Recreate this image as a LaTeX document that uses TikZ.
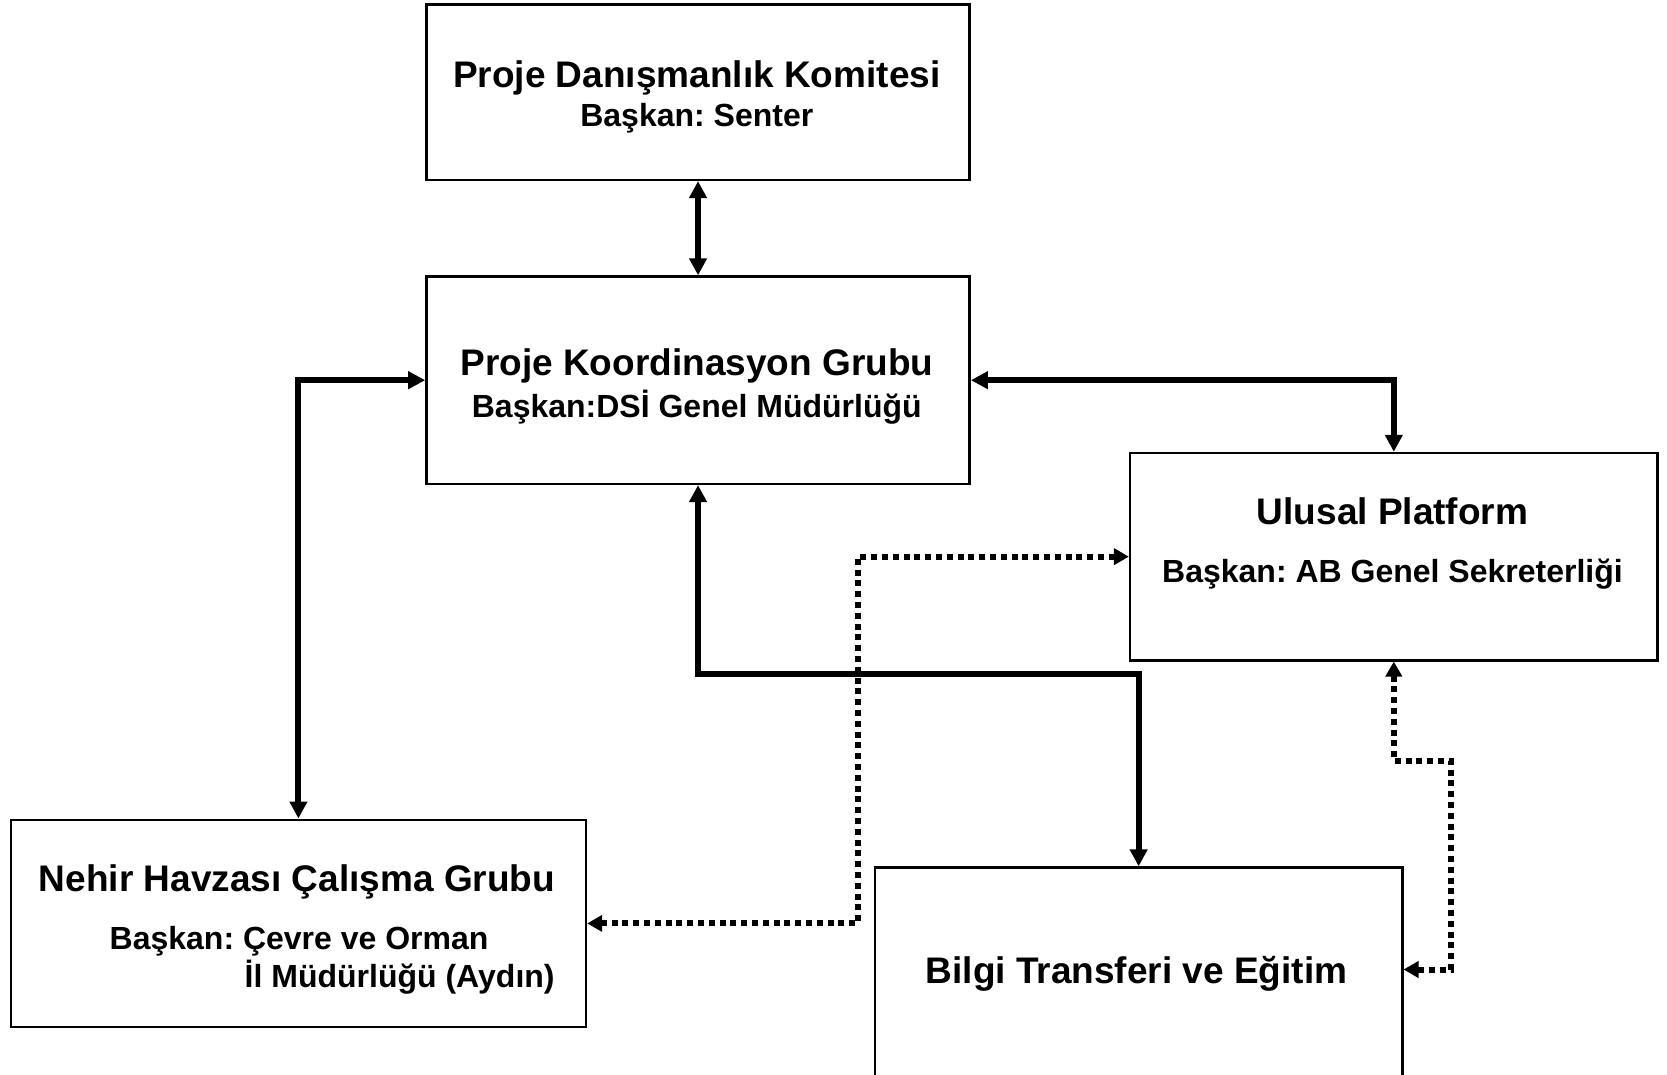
\documentclass[tikz,border=0pt]{standalone}
\usepackage{fontspec}
\setmainfont{Liberation Sans}
\usetikzlibrary{arrows.meta}
\frenchspacing
\begin{document}
\begin{tikzpicture}[x=1pt,y=-1pt,
  box/.style={draw, line width=2.5pt, inner sep=0pt, anchor=north west},
  ttl/.style={font=\fontsize{37}{44}\selectfont\bfseries, inner sep=0pt, anchor=base},
  sub/.style={font=\fontsize{32}{38}\selectfont\bfseries, inner sep=0pt, anchor=base},
  solidcon/.style={line width=6pt, line join=miter,
    {Triangle[width=17pt,length=17pt]}-{Triangle[width=17pt,length=17pt]}},
  dotcon/.style={line width=6pt, dash pattern=on 6pt off 4.8pt, line cap=butt,
    {Triangle[width=16pt,length=15pt]}-{Triangle[width=16pt,length=15pt]}}]
\useasboundingbox (0,0) rectangle (1667,1074);

% boxes
\node[box, minimum width=543.2pt, minimum height=175.4pt] (pdk) at (425.2,3.2) {};
\node[box, minimum width=543.2pt, minimum height=207.3pt] (pkg) at (425.2,275.3) {};
\node[box, minimum width=527.3pt, minimum height=207.2pt] (ulusal) at (1128.9,451.8) {};
\node[box, minimum width=575.1pt, minimum height=207.3pt] (nehir) at (9.6,818.5) {};
\node[box, minimum width=527.2pt, minimum height=223.7pt] (bilgi) at (873.8,866.3) {};

% texts
\node[ttl] (t1) at (696.8,87.7) {Proje Danışmanlık Komitesi};
\node[sub] (s1) at (696.8,126.3) {Başkan: Senter};
\node[ttl] (t2) at (696.8,375.8) {Proje Koordinasyon Grubu};
\node[sub] (s2) at (696.8,417.5) {Başkan:DSİ Genel Müdürlüğü};
\node[ttl] (t3) at (1392.5,524.6) {Ulusal Platform};
\node[sub] (s3) at (1392.5,582.3) {Başkan: AB Genel Sekreterliği};
\node[ttl] (t4) at (297,891.3) {Nehir Havzası Çalışma Grubu};
\node[sub, anchor=base west] (s4a) at (109.5,949.1) {Başkan: Çevre ve Orman};
\node[sub, anchor=base west] (s4b) at (244.5,987.3) {İl Müdürlüğü (Aydın)};
\node[ttl] (t5) at (1136.5,983.8) {Bilgi Transferi ve Eğitim};

% helper coordinates
\coordinate (c1) at (900,674);
\coordinate (d1) at (857.8,600);
\coordinate (d2) at (1451,761);
\coordinate (d3) at (1451,969.5);

% solid connectors
\draw[solidcon] (pdk.south) -- (pkg.north);
\draw[solidcon] (pkg.west) -| (nehir.north);
\draw[solidcon] (pkg.east) -| (ulusal.north);
\draw[solidcon] (pkg.south) |- (c1) -| (bilgi.north);

% dotted connectors
\draw[dotcon] (ulusal.west) -| (d1) |- (nehir.east);
\draw[dotcon] (ulusal.south) |- (d2) |- (bilgi.east |- d3);
\end{tikzpicture}
\end{document}
